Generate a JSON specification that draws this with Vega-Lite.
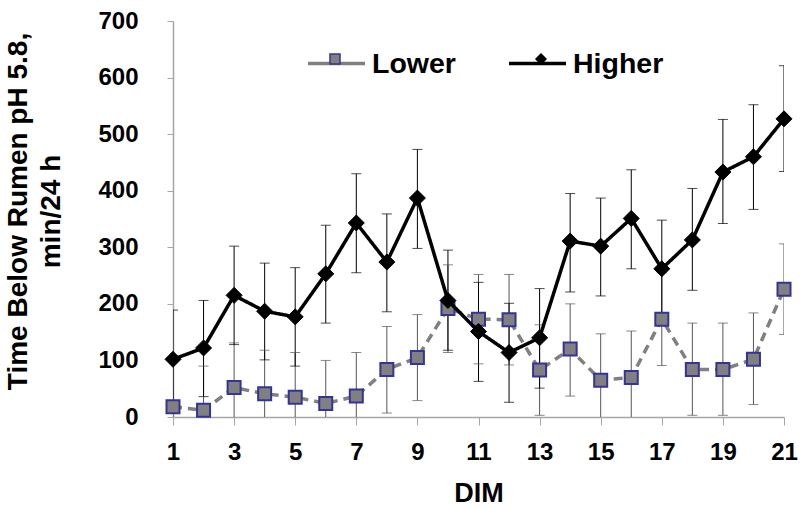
{
  "$schema": "https://vega.github.io/schema/vega-lite/v6.json",
  "width": 611,
  "height": 396,
  "autosize": {"type": "none"},
  "padding": {"left": 173, "top": 21, "right": 17, "bottom": 91},
  "background": "white",
  "config": {
    "view": {"stroke": null},
    "font": "Liberation Sans",
    "axis": {"grid": false, "domainColor": "#a6a6a6", "domainWidth": 1.5, "tickColor": "#a6a6a6", "tickWidth": 1, "labelFont": "Liberation Sans", "labelFontWeight": "bold", "labelColor": "#000000", "titleFont": "Liberation Sans", "titleFontWeight": "bold", "titleColor": "#000000"},
    "axisX": {"labelFontSize": 24, "tickSize": 8, "labelPadding": 15, "labelFlush": false, "labelOverlap": false, "titleFontSize": 27, "titleBaseline": "middle", "titleY": 76},
    "axisY": {"labelFontSize": 24, "tickSize": 6, "labelPadding": 29, "titleFontSize": 28, "titleLineHeight": 33, "titleBaseline": "top", "titleAlign": "center", "titleAngle": -90, "titleX": -169, "titleY": 190}
  },
  "data": {"values": [
    {"day": 1, "series": "Lower", "mean": 18, "lo": -62, "hi": 98},
    {"day": 2, "series": "Lower", "mean": 12, "lo": -66, "hi": 90},
    {"day": 3, "series": "Lower", "mean": 52, "lo": -27, "hi": 131},
    {"day": 4, "series": "Lower", "mean": 41, "lo": -36, "hi": 118},
    {"day": 5, "series": "Lower", "mean": 35, "lo": -44, "hi": 114},
    {"day": 6, "series": "Lower", "mean": 24, "lo": -52, "hi": 100},
    {"day": 7, "series": "Lower", "mean": 37, "lo": -40, "hi": 114},
    {"day": 8, "series": "Lower", "mean": 84, "lo": 7, "hi": 160},
    {"day": 9, "series": "Lower", "mean": 105, "lo": 29, "hi": 181},
    {"day": 10, "series": "Lower", "mean": 192, "lo": 114, "hi": 269},
    {"day": 11, "series": "Lower", "mean": 173, "lo": 94, "hi": 252},
    {"day": 12, "series": "Lower", "mean": 172, "lo": 92, "hi": 252},
    {"day": 13, "series": "Lower", "mean": 83, "lo": 3, "hi": 163},
    {"day": 14, "series": "Lower", "mean": 120, "lo": 37, "hi": 200},
    {"day": 15, "series": "Lower", "mean": 65, "lo": -17, "hi": 147},
    {"day": 16, "series": "Lower", "mean": 70, "lo": -12, "hi": 152},
    {"day": 17, "series": "Lower", "mean": 173, "lo": 91, "hi": 255},
    {"day": 18, "series": "Lower", "mean": 84, "lo": 3, "hi": 166},
    {"day": 19, "series": "Lower", "mean": 84, "lo": 3, "hi": 166},
    {"day": 20, "series": "Lower", "mean": 102, "lo": 22, "hi": 184},
    {"day": 21, "series": "Lower", "mean": 226, "lo": 146, "hi": 306},
    {"day": 1, "series": "Higher", "mean": 102, "lo": 15, "hi": 189},
    {"day": 2, "series": "Higher", "mean": 122, "lo": 36, "hi": 206},
    {"day": 3, "series": "Higher", "mean": 215, "lo": 128, "hi": 302},
    {"day": 4, "series": "Higher", "mean": 187, "lo": 101, "hi": 272},
    {"day": 5, "series": "Higher", "mean": 177, "lo": 90, "hi": 264},
    {"day": 6, "series": "Higher", "mean": 253, "lo": 166, "hi": 339},
    {"day": 7, "series": "Higher", "mean": 343, "lo": 255, "hi": 430},
    {"day": 8, "series": "Higher", "mean": 274, "lo": 186, "hi": 359},
    {"day": 9, "series": "Higher", "mean": 387, "lo": 298, "hi": 473},
    {"day": 10, "series": "Higher", "mean": 206, "lo": 118, "hi": 295},
    {"day": 11, "series": "Higher", "mean": 151, "lo": 63, "hi": 238},
    {"day": 12, "series": "Higher", "mean": 114, "lo": 26, "hi": 201},
    {"day": 13, "series": "Higher", "mean": 140, "lo": 51, "hi": 227},
    {"day": 14, "series": "Higher", "mean": 311, "lo": 221, "hi": 395},
    {"day": 15, "series": "Higher", "mean": 302, "lo": 214, "hi": 387},
    {"day": 16, "series": "Higher", "mean": 351, "lo": 262, "hi": 437},
    {"day": 17, "series": "Higher", "mean": 262, "lo": 176, "hi": 348},
    {"day": 18, "series": "Higher", "mean": 313, "lo": 224, "hi": 404},
    {"day": 19, "series": "Higher", "mean": 433, "lo": 342, "hi": 526},
    {"day": 20, "series": "Higher", "mean": 460, "lo": 367, "hi": 552},
    {"day": 21, "series": "Higher", "mean": 527, "lo": 434, "hi": 621}
  ]},
  "encoding": {
    "x": {
      "field": "day", "type": "quantitative",
      "scale": {"domain": [1, 21], "nice": false, "zero": false},
      "axis": {"values": [1, 3, 5, 7, 9, 11, 13, 15, 17, 19, 21], "title": "DIM"}
    }
  },
  "layer": [
    {
      "mark": {"type": "rule", "clip": true, "strokeWidth": 1},
      "encoding": {
        "y": {"field": "lo", "type": "quantitative", "scale": {"domain": [0, 700], "nice": false}, "title": ["Time Below Rumen pH 5.8,", "min/24 h"], "axis": {"values": [0, 100, 200, 300, 400, 500, 600, 700]}},
        "y2": {"field": "hi"},
        "color": {"condition": {"test": "datum.series === 'Higher'", "value": "#000000"}, "value": "#555555"}
      }
    },
    {
      "mark": {"type": "tick", "clip": true, "orient": "horizontal", "size": 10, "thickness": 1},
      "encoding": {
        "y": {"field": "lo", "type": "quantitative", "title": ["Time Below Rumen pH 5.8,", "min/24 h"]},
        "color": {"condition": {"test": "datum.series === 'Higher'", "value": "#000000"}, "value": "#555555"}
      }
    },
    {
      "mark": {"type": "tick", "clip": true, "orient": "horizontal", "size": 10, "thickness": 1},
      "encoding": {
        "y": {"field": "hi", "type": "quantitative", "title": ["Time Below Rumen pH 5.8,", "min/24 h"]},
        "color": {"condition": {"test": "datum.series === 'Higher'", "value": "#000000"}, "value": "#555555"}
      }
    },
    {
      "transform": [{"filter": "datum.series === 'Lower'"}],
      "mark": {"type": "line", "strokeWidth": 3.5, "strokeCap": "butt"},
      "encoding": {
        "y": {"field": "mean", "type": "quantitative", "title": ["Time Below Rumen pH 5.8,", "min/24 h"]},
        "color": {
          "field": "series", "type": "nominal", "sort": ["Lower", "Higher"],
          "scale": {"range": ["#808080", "#000000"]},
          "legend": {"orient": "none", "legendX": 133, "legendY": 12, "direction": "horizontal", "title": null, "padding": 0, "symbolType": "stroke", "symbolSize": 3249, "symbolStrokeWidth": 3.5, "labelFont": "Liberation Sans", "labelFontSize": 28.5, "labelFontWeight": "bold", "labelColor": "#000000", "labelOffset": 5, "columnPadding": 46}
        },
        "strokeDash": {
          "field": "series", "type": "nominal", "sort": ["Lower", "Higher"],
          "scale": {"range": [[9, 6], [1, 0]]}
        }
      }
    },
    {
      "transform": [{"filter": "datum.series === 'Lower'"}],
      "mark": {"type": "point", "filled": true, "size": 169, "strokeWidth": 2, "opacity": 1},
      "encoding": {
        "y": {"field": "mean", "type": "quantitative", "title": ["Time Below Rumen pH 5.8,", "min/24 h"]},
        "fill": {
          "field": "series", "type": "nominal",
          "scale": {"domain": ["Lower", "Higher"], "range": ["#808080", "#000000"]},
          "legend": {"orient": "none", "legendX": 156, "legendY": 32, "direction": "horizontal", "title": null, "padding": 0, "labelExpr": "''", "labelOffset": 0, "columnPadding": 190, "symbolStrokeWidth": 1.5, "encode": {"symbols": {"update": {"size": {"signal": "datum.value === 'Lower' ? 180 : 140"}}}}}
        },
        "stroke": {
          "field": "series", "type": "nominal",
          "scale": {"domain": ["Lower", "Higher"], "range": ["#333399", "#000000"]}
        },
        "shape": {
          "field": "series", "type": "nominal",
          "scale": {"domain": ["Lower", "Higher"], "range": ["square", "diamond"]}
        }
      }
    },
    {
      "transform": [{"filter": "datum.series === 'Higher'"}],
      "mark": {"type": "line", "strokeWidth": 3.5, "strokeCap": "butt"},
      "encoding": {
        "y": {"field": "mean", "type": "quantitative", "title": ["Time Below Rumen pH 5.8,", "min/24 h"]},
        "color": {"field": "series", "type": "nominal", "sort": ["Lower", "Higher"]},
        "strokeDash": {"field": "series", "type": "nominal", "sort": ["Lower", "Higher"]}
      }
    },
    {
      "transform": [{"filter": "datum.series === 'Higher'"}],
      "mark": {"type": "point", "filled": true, "size": 256, "strokeWidth": 1, "opacity": 1},
      "encoding": {
        "y": {"field": "mean", "type": "quantitative", "title": ["Time Below Rumen pH 5.8,", "min/24 h"]},
        "fill": {"field": "series", "type": "nominal"},
        "stroke": {"field": "series", "type": "nominal"},
        "shape": {"field": "series", "type": "nominal"}
      }
    }
  ]
}
